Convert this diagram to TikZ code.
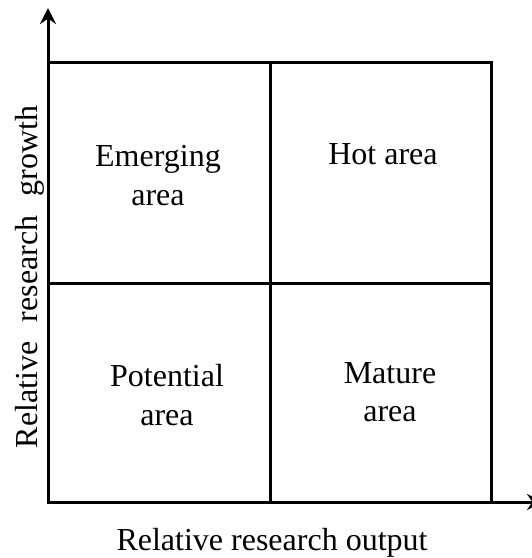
\documentclass[tikz,border=0pt]{standalone}
\usepackage{fontspec}
\setmainfont{Liberation Serif}
\usetikzlibrary{arrows.meta}
\tikzset{frame/.style={line width=2.25pt},
  axisline/.style={line width=2.25pt,{Stealth[length=12pt,width=12pt,inset=4pt]}-{Stealth[length=12pt,width=12pt,inset=4pt]}},
  quadtext/.style={font=\fontsize{24}{29}\selectfont,inner sep=0pt,align=center}}

\begin{document}
\begin{tikzpicture}[x=0.75pt,y=-0.75pt]
\useasboundingbox (0,0) rectangle (532,558);
\coordinate (o) at (48,502);
\coordinate (ytip) at (48,8);
\coordinate (xtip) at (543,502);
\coordinate (tl) at (48,62);
\coordinate (br) at (491,502);
\coordinate (mid) at (270,283);
% axes and quadrant frame
\draw[axisline] (ytip) -- (o) -- (xtip);
\draw[frame] (tl) rectangle (br);
\draw[frame] (tl -| mid) -- (br -| mid);
\draw[frame] (tl |- mid) -- (br |- mid);
% quadrant texts
\node[quadtext,anchor=north] (emerging) at (158,145) {Emerging\\area};
\node[quadtext,anchor=north] (hot) at (383,143) {Hot area};
\node[quadtext,anchor=north] (potential) at (167,364) {Potential\\area};
\node[quadtext,anchor=north] (mature) at (390,362) {Mature\\area};
% axis labels
\node[quadtext,anchor=base] (xlab) at (272,550) {Relative research output};
\node[quadtext,anchor=base,rotate=90] (ylab) at (37,277) {Relative\hspace{0.6em}research\hspace{0.6em}growth};
\end{tikzpicture}
\end{document}
